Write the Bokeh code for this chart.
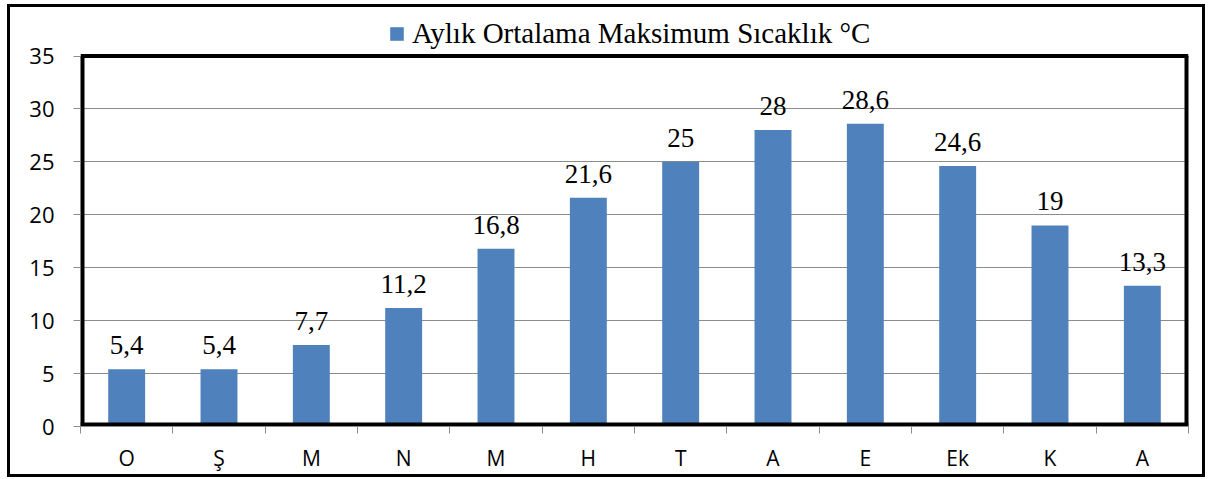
from bokeh.plotting import figure
from bokeh.models import FixedTicker, Legend, LegendItem, ColumnDataSource
from bokeh.core.properties import value
from bokeh.embed import file_html
from bokeh.resources import INLINE

months = ["O", "Ş", "M", "N", "M", "H", "T", "A", "E", "Ek", "K", "A"]
temps = [5.4, 5.4, 7.7, 11.2, 16.8, 21.6, 25, 28, 28.6, 24.6, 19, 13.3]
labels = ["5,4", "5,4", "7,7", "11,2", "16,8", "21,6", "25", "28", "28,6", "24,6", "19", "13,3"]
y_ticks = [0, 5, 10, 15, 20, 25, 30, 35]
series_name = "Aylık Ortalama Maksimum Sıcaklık °C"
bar_color = "#4F81BD"

xs = list(range(1, len(months) + 1))
src = ColumnDataSource(dict(x=xs, top=temps, lab=labels))
x_lo, x_hi = 0.5, len(months) + 0.5
y_top = y_ticks[-1]

# frame extends above the value axis to hold the legend
p = figure(width=1192, height=467, x_range=(x_lo, x_hi), y_range=(0, 39.3),
           output_backend="svg", toolbar_location=None,
           min_border_left=70, min_border_right=14, min_border_top=3, min_border_bottom=46)
p.styles = {"margin-left": "10px", "margin-top": "7px", "outline": "3px solid black"}
p.outline_line_color = None

r = p.vbar(x="x", top="top", width=0.40, bottom=0, source=src, color=bar_color, line_color=None)

p.text(x="x", y="top", text="lab", source=src, text_align="center", text_baseline="alphabetic",
       y_offset=-24, text_font=value("Liberation Serif"), text_font_size="27px", text_color="black")

# plot-area box (from 0 to the top tick)
p.segment(x0=[x_lo, x_lo], y0=[y_top, 0], x1=[x_hi, x_hi], y1=[y_top, 0],
          line_color="black", line_width=[4, 8])
p.segment(x0=[x_lo, x_hi], y0=[0, 0], x1=[x_lo, x_hi], y1=[y_top, y_top],
          line_color="black", line_width=8)

p.xgrid.grid_line_color = None
p.ygrid.grid_line_color = "#8c8c8c"
p.ygrid.grid_line_width = 1

p.yaxis.ticker = FixedTicker(ticks=y_ticks)
p.yaxis.axis_line_color = None
p.yaxis.major_tick_line_color = "#8c8c8c"
p.yaxis.major_tick_out = 7
p.yaxis.major_tick_in = 0
p.yaxis.minor_tick_line_color = None
p.yaxis.major_label_text_font = "Open Sans"
p.yaxis.major_label_text_font_size = "22px"
p.yaxis.major_label_text_color = "black"
p.yaxis.major_label_standoff = 19

p.xaxis.ticker = FixedTicker(ticks=xs, minor_ticks=[x - 0.5 for x in xs] + [len(xs) + 0.5])
p.xaxis.major_label_overrides = {x: m for x, m in zip(xs, months)}
p.xaxis.axis_line_color = "#8c8c8c"
p.xaxis.major_tick_line_color = None
p.xaxis.minor_tick_line_color = "#8c8c8c"
p.xaxis.minor_tick_out = 7
p.xaxis.minor_tick_in = 0
p.xaxis.major_label_text_font = "Open Sans"
p.xaxis.major_label_text_font_size = "21px"
p.xaxis.major_label_text_color = "black"
p.xaxis.major_label_standoff = 10

legend = Legend(items=[LegendItem(label=series_name, renderers=[r])], location=(308, 376),
                orientation="horizontal", label_text_font="Liberation Serif",
                label_text_font_size="29px", label_text_color="black",
                glyph_width=17, glyph_height=17,
                label_standoff=7, border_line_color=None, background_fill_alpha=0,
                padding=0, margin=0)
p.add_layout(legend, "center")

open("out.html", "w").write(file_html(p, INLINE))
